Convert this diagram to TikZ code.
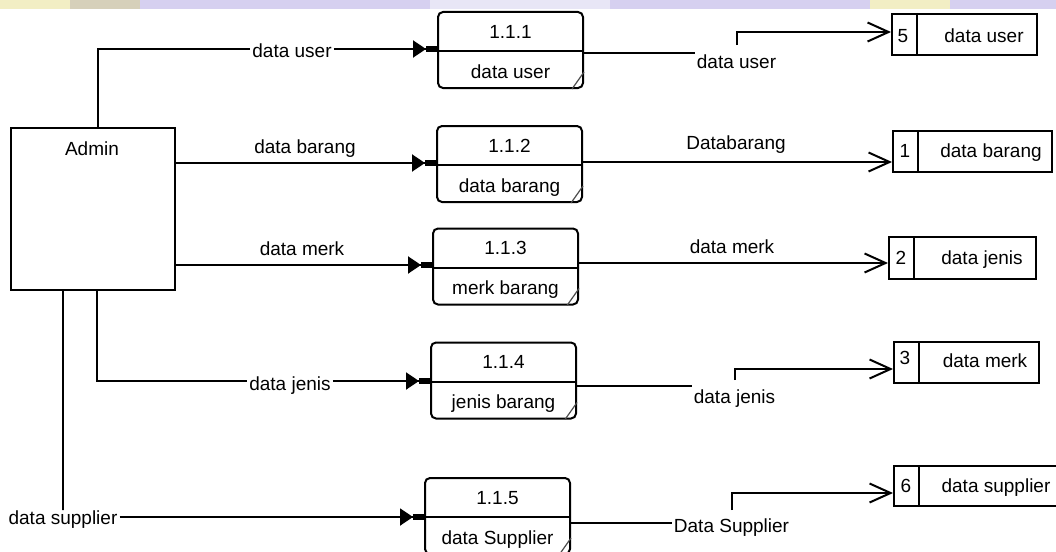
\documentclass[tikz,border=0pt]{standalone}
\usepackage{fontspec}
\setmainfont{Liberation Sans}
\usetikzlibrary{arrows.meta}
\definecolor{bandyellow}{RGB}{242,238,196}
\definecolor{bandgrey}{RGB}{214,208,186}
\definecolor{bandlav}{RGB}{214,208,240}
\definecolor{bandlight}{RGB}{232,230,246}
\begin{document}
\begin{tikzpicture}[x=1pt,y=-1pt,
  every node/.style={font=\fontsize{19}{22}\selectfont, text=black, inner sep=0pt},
  lbl/.style={inner xsep=2pt, inner ysep=0pt},
  flow/.style={line width=2pt, draw=black},
  intip/.style={-{Triangle[length=13pt,width=17pt]Rectangle[length=11pt,width=6pt]}},
  storetip/.style={-{Straight Barb[length=21pt,width=19pt]}},
  proc/.style={draw, line width=2pt, rounded corners=5pt, minimum width=145pt, minimum height=76pt, anchor=north west},
  store/.style={draw, line width=2pt, minimum height=41pt, anchor=north west},
  entity/.style={draw, line width=2pt, anchor=north west},
]
\useasboundingbox (0,0) rectangle (1056,551);
\clip (0,0) rectangle (1056,551);

% coloured strip along the top edge
\fill[bandyellow] (0,0) rectangle (70,9);
\fill[bandgrey] (70,0) rectangle (140,9);
\fill[bandlav] (140,0) rectangle (430,9);
\fill[bandlight] (430,0) rectangle (610,9);
\fill[bandlav] (610,0) rectangle (870,9);
\fill[bandyellow] (870,0) rectangle (950,9);
\fill[bandlav] (950,0) rectangle (1056,9);

% external entity
\node[entity, minimum width=164pt, minimum height=162pt] (admin) at (10,127) {};
\node[anchor=base] (admintxt) at (92,155) {Admin};

% processes
\node[proc] (p1) at (437,11) {};
\node[proc] (p2) at (436,125) {};
\node[proc] (p3) at (432,227.5) {};
\node[proc] (p4) at (430,341.5) {};
\node[proc] (p5) at (424,477) {};
\foreach \p/\n/\t in {p1/1.1.1/data user, p2/1.1.2/data barang, p3/1.1.3/merk barang, p4/1.1.4/jenis barang, p5/1.1.5/data Supplier}{
  \draw[line width=2pt] ([yshift=-40pt]\p.north west) -- ([yshift=-40pt]\p.north east);
  \node[anchor=base] (\p-num) at ([yshift=-27pt]\p.north) {\n};
  \node[anchor=base] (\p-name) at ([yshift=-67pt]\p.north) {\t};
  \draw[line width=1.2pt, black!70] ([yshift=17pt]\p.south east) -- ([xshift=-12pt]\p.south east);
}

% data stores
\node[store, minimum width=145pt] (s5) at (891,13) {};
\node[store, minimum width=159pt] (s1) at (892,130) {};
\node[store, minimum width=147pt, minimum height=42pt] (s2) at (888,236) {};
\node[store, minimum width=145pt] (s3) at (893,341) {};
\node[store, minimum width=166pt, minimum height=40pt] (s6) at (893,465) {};
\foreach \s in {s5,s1,s2,s3,s6}{
  \draw[line width=2pt] ([xshift=26pt]\s.north west) -- ([xshift=26pt]\s.south west);
}
\node[anchor=base] (s5-num) at (903,42) {5};
\node[anchor=base] (s5-name) at (984,42) {data user};
\node[anchor=base] (s1-num) at (905,157) {1};
\node[anchor=base] (s1-name) at (991,157) {data barang};
\node[anchor=base] (s2-num) at (901,264) {2};
\node[anchor=base] (s2-name) at (982,264) {data jenis};
\node[anchor=base] (s3-num) at (905,364) {3};
\node[anchor=base] (s3-name) at (985,367) {data merk};
\node[anchor=base] (s6-num) at (906,492) {6};
\node[anchor=base] (s6-name) at (996,492) {data supplier};

% helper heights
\coordinate (a1) at (98,127);
\coordinate (a4) at (97,289);
\coordinate (a5) at (63,289);
\coordinate (y1) at (0,49);
\coordinate (y2) at (0,163);
\coordinate (y3) at (0,265);
\coordinate (y4) at (0,381);
\coordinate (y5) at (0,517);
\coordinate (r1) at (0,53);
\coordinate (r2) at (0,162);
\coordinate (r3) at (0,263);
\coordinate (r4) at (0,386);
\coordinate (r5) at (0,523);
\coordinate (t5) at (0,32);
\coordinate (t3) at (0,369);
\coordinate (t6) at (0,493);

% flows from Admin
\node[lbl, anchor=base] (lu) at (292,57) {data user};
\draw[flow] (a1) |- (lu.west |- y1);
\draw[flow, intip] (lu.east |- y1) -- (p1.west |- y1);

\node[lbl, anchor=base] (lb) at (305,153) {data barang};
\draw[flow, intip] (admin.east |- y2) -- (p2.west |- y2);

\node[lbl, anchor=base] (lm) at (302,255) {data merk};
\draw[flow, intip] (admin.east |- y3) -- (p3.west |- y3);

\node[lbl, anchor=base] (lj) at (290,390) {data jenis};
\draw[flow] (a4) |- (lj.west |- y4);
\draw[flow, intip] (lj.east |- y4) -- (p4.west |- y4);

\node[lbl, anchor=base] (ls) at (63,524) {data supplier};
\draw[flow] (a5) -- (a5 |- ls.north) -- ++(0,-9);
\draw[flow, intip] (ls.east |- y5) -- (p5.west |- y5);

% flows into the data stores
\node[lbl, anchor=base] (ru) at (736.5,68) {data user};
\draw[flow] (p1.east |- r1) -- (ru.west |- r1);
\draw[flow, storetip] ([yshift=9pt]ru.north) |- (s5.west |- t5);

\node[lbl, anchor=base] (rb) at (736,149) {Databarang};
\draw[flow, storetip] (p2.east |- r2) -- (s1.west |- r2);

\node[lbl, anchor=base] (rm) at (732,253) {data merk};
\draw[flow, storetip] (p3.east |- r3) -- (s2.west |- r3);

\node[lbl, anchor=base] (rj) at (734.5,403) {data jenis};
\draw[flow] (p4.east |- r4) -- (rj.west |- r4);
\draw[flow, storetip] ([yshift=9pt]rj.north) |- (s3.west |- t3);

\node[lbl, anchor=base] (rs) at (731.5,532) {Data Supplier};
\draw[flow] (p5.east |- r5) -- (rs.west |- r5);
\draw[flow, storetip] ([yshift=8pt]rs.north) |- (s6.west |- t6);
\end{tikzpicture}
\end{document}
